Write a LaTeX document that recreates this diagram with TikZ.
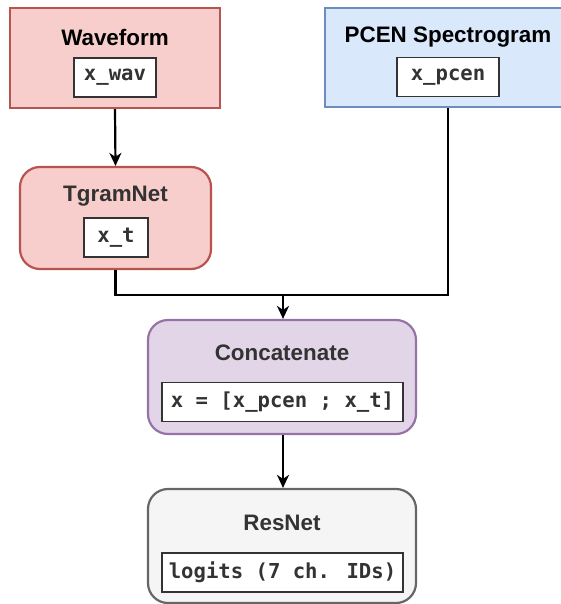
\documentclass[tikz,border=0pt]{standalone}
\usepackage{fontspec}
\setmainfont{Liberation Sans}
\newfontfamily\codefont{DejaVu Sans Mono}
\usetikzlibrary{arrows.meta}
\definecolor{redfill}{HTML}{F8CECC}
\definecolor{redline}{HTML}{B85450}
\definecolor{bluefill}{HTML}{DAE8FC}
\definecolor{blueline}{HTML}{6C8EBF}
\definecolor{purplefill}{HTML}{E1D5E7}
\definecolor{purpleline}{HTML}{9673A6}
\definecolor{greyfill}{HTML}{F5F5F5}
\definecolor{greyline}{HTML}{666666}
\definecolor{darktext}{HTML}{333333}
\tikzset{
  block/.style={draw, line width=2.2pt, inner sep=0pt},
  roundblock/.style={block, rounded corners=20pt},
  title/.style={font=\fontsize{22.4}{26}\selectfont\bfseries, inner sep=0pt, anchor=center},
  codebox/.style={draw=darktext, fill=white, line width=1.4pt, inner sep=0pt,
    minimum height=39pt, text=darktext, font=\codefont\bfseries\fontsize{20.6}{24}\selectfont},
  flow/.style={line width=2.2pt, -{Stealth[length=13pt,width=12pt,inset=4pt]}},
  wire/.style={line width=2.2pt}
}
\begin{document}
\begin{tikzpicture}[x=1pt,y=-1pt]
\useasboundingbox (0,0) rectangle (561,604);

% input branches
\node[block, fill=redfill, draw=redline, minimum width=210pt, minimum height=100pt] (wave) at (115,58) {};
\node[title] (wavet) at (115,37) {Waveform};
\node[codebox, minimum width=82pt] (wavec) at (115,77.5) {x\_wav};

\node[block, fill=bluefill, draw=blueline, minimum width=246pt, minimum height=99pt] (pcen) at (448,57.5) {};
\node[title] (pcent) at (448,37) {PCEN Spectrogram};
\node[codebox, minimum width=102pt] (pcenc) at (448,77) {x\_pcen};

\node[roundblock, fill=redfill, draw=redline, minimum width=191pt, minimum height=102pt] (tgram) at (115.5,218) {};
\node[title, text=darktext] (tgramt) at (115.5,196) {TgramNet};
\node[codebox, minimum width=64pt] (tgramc) at (116,237.5) {x\_t};

% fusion and classifier
\node[roundblock, fill=purplefill, draw=purpleline, minimum width=268pt, minimum height=114pt] (concat) at (282,377) {};
\node[title, text=darktext] (concatt) at (282,353) {Concatenate};
\node[codebox, minimum width=241pt] (concatc) at (282.5,402) {x = [x\_pcen ; x\_t]};

\node[roundblock, fill=greyfill, draw=greyline, minimum width=268pt, minimum height=114pt] (resnet) at (282,546) {};
\node[title, text=darktext] (resnett) at (282,523) {ResNet};
\node[codebox, minimum width=241pt] (resnetc) at (282.5,572.5) {logits (7 ch. IDs)};

% connectors
\coordinate (join) at (283,295);
\draw[flow] (wave.south) -- (tgram.north);
\draw[wire] (tgram.south) |- (join);
\draw[wire] (pcen.south) |- (join);
\draw[flow] (join) -- (concat.north -| join);
\draw[flow] (concat.south -| join) -- (resnet.north -| join);
\end{tikzpicture}
\end{document}
